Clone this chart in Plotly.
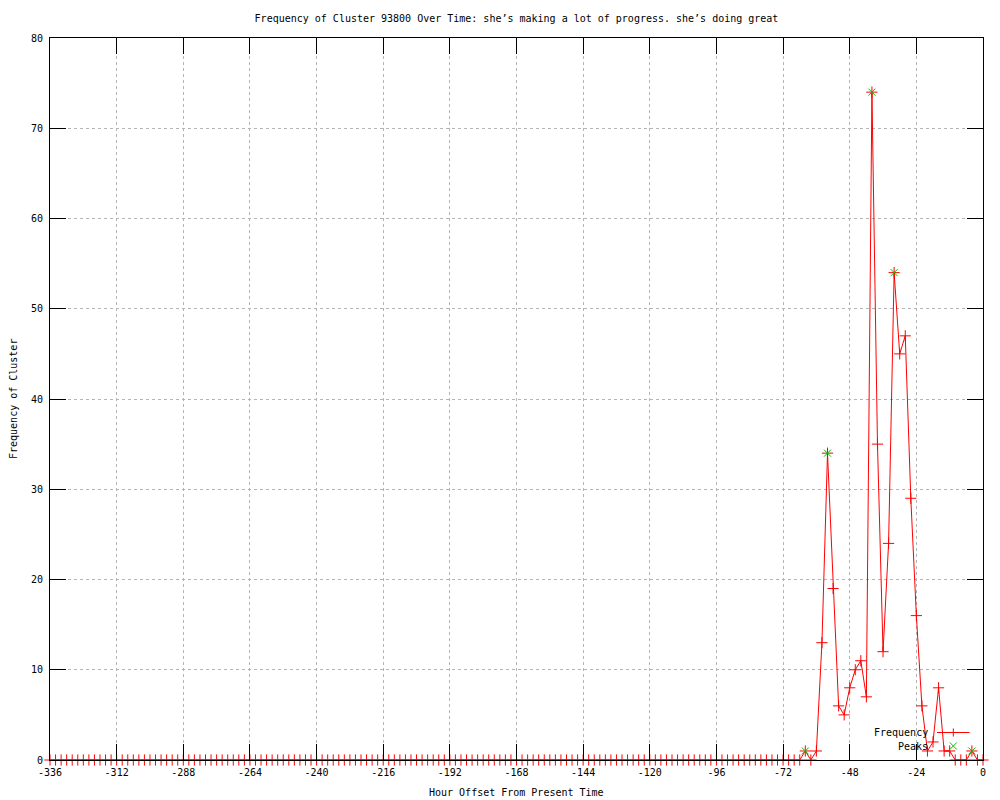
import plotly.graph_objects as go

# ---- data ----
hours = list(range(-336, 2, 2))  # hourly offsets, every 2 hours
frequency = [
    0, 0, 0, 0, 0, 0, 0, 0, 0, 0, 0, 0, 0, 0, 0, 0, 0, 0, 0, 0,
    0, 0, 0, 0, 0, 0, 0, 0, 0, 0, 0, 0, 0, 0, 0, 0, 0, 0, 0, 0,
    0, 0, 0, 0, 0, 0, 0, 0, 0, 0, 0, 0, 0, 0, 0, 0, 0, 0, 0, 0,
    0, 0, 0, 0, 0, 0, 0, 0, 0, 0, 0, 0, 0, 0, 0, 0, 0, 0, 0, 0,
    0, 0, 0, 0, 0, 0, 0, 0, 0, 0, 0, 0, 0, 0, 0, 0, 0, 0, 0, 0,
    0, 0, 0, 0, 0, 0, 0, 0, 0, 0, 0, 0, 0, 0, 0, 0, 0, 0, 0, 0,
    0, 0, 0, 0, 0, 0, 0, 0, 0, 0, 0, 0, 0, 0, 0, 0,
    # -64 .. 0
    1, 0, 1, 13, 34, 19, 6, 5, 8, 10, 11, 7, 74, 35, 12, 24, 54,
    45, 47, 29, 16, 6, 1, 2, 8, 1, 1, 0, 0, 0, 1, 0, 0,
]
peak_hours = [-64, -56, -40, -32, -4]
peak_values = [1, 34, 74, 54, 1]

x_tick_vals = [-336, -312, -288, -264, -240, -216, -192, -168, -144, -120, -96, -72, -48, -24, 0]
x_tick_text = ["-336", "-312", "-288", "-264", "-240", "-216", "-192", "-168", "-144",
               "-120", "-96", "-72", "-48", "-24", "0"]
y_tick_vals = [0, 10, 20, 30, 40, 50, 60, 70, 80]
y_tick_text = ["0", "10", "20", "30", "40", "50", "60", "70", "80"]

title_text = "Frequency of Cluster 93800 Over Time: she\u2019s making a lot of progress. she\u2019s doing great"

FONT = "DejaVu Sans Mono"
RED = "#ff0000"
GREEN = "#00c000"

fig = go.Figure()
fig.add_trace(go.Scatter(
    x=hours, y=frequency, mode="lines+markers", name="Frequency",
    line=dict(color=RED, width=1),
    marker=dict(symbol="cross-thin", size=8, line=dict(color=RED, width=1), color=RED),
    cliponaxis=False, showlegend=False,
))
fig.add_trace(go.Scatter(
    x=peak_hours, y=peak_values, mode="markers", name="Peaks",
    marker=dict(symbol="x-thin", size=7, line=dict(color=GREEN, width=1), color=GREEN),
    cliponaxis=False, showlegend=False,
))

axis_common = dict(
    showline=True, linecolor="black", linewidth=1, mirror="allticks",
    ticks="inside", ticklen=16, tickcolor="black", tickwidth=1,
    showgrid=True, gridcolor="#b4b4b4", griddash="dot", gridwidth=1,
    zeroline=False, tickfont=dict(family=FONT, size=10, color="black"),
)

fig.update_xaxes(range=[-336, 0], tickmode="array", tickvals=x_tick_vals, ticktext=x_tick_text,
                 ticklabelstandoff=3, **axis_common)
fig.update_yaxes(range=[0, 80], tickmode="array", tickvals=y_tick_vals, ticktext=y_tick_text,
                 ticklabelstandoff=4, **axis_common)

# gnuplot-style legend (text right-aligned, sample to the right)
lx_text = (930 - 50) / 933
lx_mid = (953.3 - 50) / 933
y_freq = (760 - 732.5) / 722
y_peak = (760 - 746) / 722
shapes = [
    dict(type="line", xref="paper", yref="paper", x0=(937 - 50) / 933, x1=(969.5 - 50) / 933,
         y0=y_freq, y1=y_freq, line=dict(color=RED, width=1)),
    dict(type="line", xref="paper", yref="paper", xsizemode="pixel", ysizemode="pixel",
         xanchor=lx_mid, yanchor=y_freq, x0=0, x1=0, y0=-4, y1=4, line=dict(color=RED, width=1)),
    dict(type="line", xref="paper", yref="paper", xsizemode="pixel", ysizemode="pixel",
         xanchor=lx_mid, yanchor=y_peak, x0=-3.5, x1=3.5, y0=-3.5, y1=3.5, line=dict(color=GREEN, width=1)),
    dict(type="line", xref="paper", yref="paper", xsizemode="pixel", ysizemode="pixel",
         xanchor=lx_mid, yanchor=y_peak, x0=-3.5, x1=3.5, y0=3.5, y1=-3.5, line=dict(color=GREEN, width=1)),
]
annotations = [
    dict(text="Frequency", xref="paper", yref="paper", x=lx_text, y=y_freq, xanchor="right",
         yanchor="middle", showarrow=False, font=dict(family=FONT, size=10, color="black")),
    dict(text="Peaks", xref="paper", yref="paper", x=lx_text, y=y_peak, xanchor="right",
         yanchor="middle", showarrow=False, font=dict(family=FONT, size=10, color="black")),
    dict(text="Hour Offset From Present Time", xref="paper", yref="paper", x=0.5, y=-33 / 722,
         xanchor="center", yanchor="middle", showarrow=False,
         font=dict(family=FONT, size=10, color="black")),
    dict(text="Frequency of Cluster", xref="paper", yref="paper", x=-37 / 933, y=0.5,
         xanchor="center", yanchor="middle", textangle=-90, showarrow=False,
         font=dict(family=FONT, size=10, color="black")),
]

fig.update_layout(
    width=1000, height=800,
    margin=dict(l=50, r=17, t=38, b=40, pad=0),
    paper_bgcolor="white", plot_bgcolor="white",
    title=dict(text=title_text, x=0.5, xref="paper", y=1 - 18 / 800, yref="container",
               xanchor="center", yanchor="middle", font=dict(family=FONT, size=10, color="black")),
    shapes=shapes, annotations=annotations, showlegend=False,
)

fig.write_html("out.html", config={"displayModeBar": False},
               post_script="document.body.style.margin='0';document.body.style.padding='0';")
